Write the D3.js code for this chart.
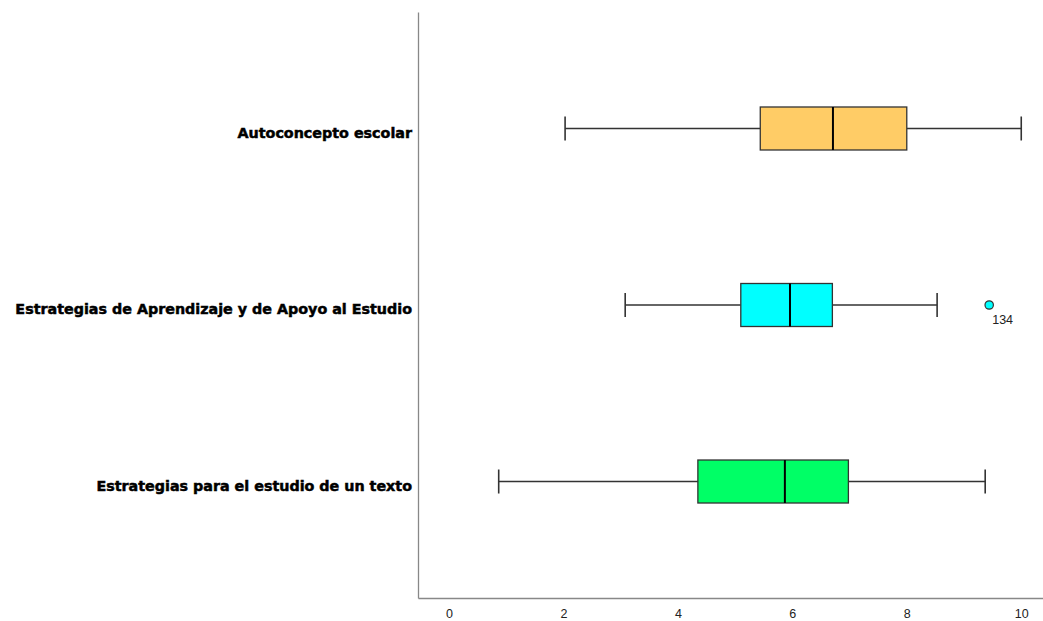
<!DOCTYPE html>
<html><head><meta charset="utf-8">
<script src="https://cdn.jsdelivr.net/npm/d3@7"></script>
<style>body{margin:0;background:#fff}</style>
</head><body>
<svg id="c" width="1043" height="621"></svg>
<script>
const categories = ["Autoconcepto escolar","Estrategias de Aprendizaje y de Apoyo al Estudio","Estrategias para el estudio de un texto"];
const mins = [2.03, 3.08, 0.87];
const q1s = [5.44, 5.10, 4.35];
const medians = [6.71, 5.96, 5.87];
const q3s = [8.00, 6.70, 6.98];
const maxs = [10.0, 8.53, 9.37];
const colors = ["#ffcc66", "#00ffff", "#00ff66"];
const outliers = [{cat: 1, value: 9.44, label: "134"}];
const ticks = [0, 2, 4, 6, 8, 10];

const svg = d3.select("#c");
const L = 418, R = 1043, T = 12, B = 598;
const x = d3.scaleLinear().domain([-0.54, 10.38]).range([L, R]);
const y = d3.scalePoint().domain(categories).range([T, B]).padding(0.66);
const boxH = 43, capH = 24;

// axes
const xAxis = d3.axisBottom(x).tickValues(ticks).tickSize(0).tickPadding(11);
const gx = svg.append("g").attr("transform", `translate(0,${B})`).call(xAxis);
gx.select(".domain").attr("stroke", "#888").attr("stroke-width", 1.3);
gx.selectAll("text").attr("font-family", "Liberation Sans, Arial, sans-serif").attr("font-size", 12.5).attr("fill", "#222");

const yAxis = d3.axisLeft(y).tickSize(0).tickPadding(6);
const gy = svg.append("g").attr("transform", `translate(${L},0)`).call(yAxis);
gy.select(".domain").attr("stroke", "#888").attr("stroke-width", 1.3);
gy.selectAll("text").attr("font-family", "DejaVu Sans, sans-serif").attr("font-weight", "bold").attr("font-size", 14.3)
  .attr("fill", "#000").attr("stroke", "#000").attr("stroke-width", 0.5).attr("dy", "0.6em");

const data = categories.map((c, i) => ({c, min: mins[i], q1: q1s[i], med: medians[i], q3: q3s[i], max: maxs[i], col: colors[i]}));
const g = svg.append("g");
data.forEach(d => {
  const cy = y(d.c);
  const stroke = "#333", sw = 1.6;
  g.append("line").attr("x1", x(d.min)).attr("x2", x(d.q1)).attr("y1", cy).attr("y2", cy).attr("stroke", stroke).attr("stroke-width", sw);
  g.append("line").attr("x1", x(d.q3)).attr("x2", x(d.max)).attr("y1", cy).attr("y2", cy).attr("stroke", stroke).attr("stroke-width", sw);
  g.append("line").attr("x1", x(d.min)).attr("x2", x(d.min)).attr("y1", cy - capH/2).attr("y2", cy + capH/2).attr("stroke", stroke).attr("stroke-width", sw);
  g.append("line").attr("x1", x(d.max)).attr("x2", x(d.max)).attr("y1", cy - capH/2).attr("y2", cy + capH/2).attr("stroke", stroke).attr("stroke-width", sw);
  g.append("rect").attr("x", x(d.q1)).attr("width", x(d.q3) - x(d.q1)).attr("y", cy - boxH/2).attr("height", boxH)
    .attr("fill", d.col).attr("stroke", stroke).attr("stroke-width", 1.3);
  g.append("line").attr("x1", x(d.med)).attr("x2", x(d.med)).attr("y1", cy - boxH/2).attr("y2", cy + boxH/2).attr("stroke", "#000").attr("stroke-width", 2);
});
outliers.forEach(o => {
  const cy = y(categories[o.cat]);
  g.append("circle").attr("cx", x(o.value)).attr("cy", cy).attr("r", 4.2).attr("fill", colors[o.cat]).attr("stroke", "#333").attr("stroke-width", 1.2);
  g.append("text").attr("x", x(o.value) + 3).attr("y", cy + 19).text(o.label)
    .attr("font-family", "Liberation Sans, Arial, sans-serif").attr("font-size", 12.5).attr("fill", "#222");
});
</script>
</body></html>
